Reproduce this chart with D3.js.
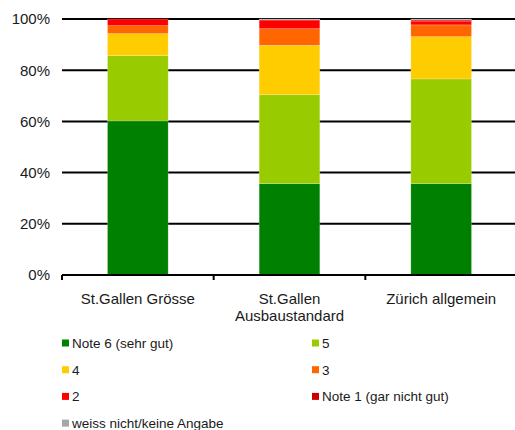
<!DOCTYPE html>
<html>
<head>
<meta charset="utf-8">
<script src="https://cdn.jsdelivr.net/npm/d3@7"></script>
<style>
	html, body { margin: 0; padding: 0; background: #fff; }
	svg { display: block; font-family: "Liberation Sans", Arial, sans-serif; }
</style>
</head>
<body>
<svg id="chart" width="515" height="430"></svg>
<script>
// categories (x axis), "\n" splits a label into lines
const categories = ["St.Gallen Grösse", "St.Gallen\nAusbaustandard", "Zürich allgemein"];

// series names, bottom to top of each bar
const seriesNames = ["Note 6 (sehr gut)", "5", "4", "3", "2", "Note 1 (gar nicht gut)", "weiss nicht/keine Angabe"];
const seriesColors = ["#008000", "#99cc00", "#ffcc00", "#ff6600", "#ff0000", "#cc0000", "#a6a6a6"];

// percentages per series, one value per category
const note6 = [60.2, 35.7, 35.7];
const note5 = [25.5, 34.7, 40.9];
const note4 = [8.6, 19.3, 16.5];
const note3 = [3.1, 6.5, 4.6];
const note2 = [2.6, 3.4, 1.5];
const note1 = [0.0, 0.0, 0.4];
const keineAngabe = [0.0, 0.4, 0.4];

const yTicks = [0, 20, 40, 60, 80, 100];

const seriesValues = [note6, note5, note4, note3, note2, note1, keineAngabe];

const rows = categories.map((c, i) => {
	let r = {category: c};
	seriesNames.forEach((s, k) => { r[s] = seriesValues[k][i]; });
	return r;
});

const margin = {left: 62, top: 19};
const plotW = 455, plotH = 256;

const svg = d3.select("#chart");
const g = svg.append("g").attr("transform", `translate(${margin.left},${margin.top})`);

const x = d3.scaleBand().domain(categories).range([0, plotW]).paddingInner(0.6).paddingOuter(0.3);
const band = plotW / categories.length;
const y = d3.scaleLinear().domain([0, 100]).range([plotH, 0]);

// gridlines
g.append("g")
	.selectAll("line")
	.data(yTicks.filter(t => t > 0))
	.enter().append("line")
	.attr("x1", 0).attr("x2", plotW)
	.attr("y1", d => y(d)).attr("y2", d => y(d))
	.attr("stroke", "#000").attr("stroke-width", 2);

// y labels
g.append("g")
	.selectAll("text")
	.data(yTicks)
	.enter().append("text")
	.attr("x", -12).attr("y", d => y(d))
	.attr("dy", "0.36em")
	.attr("text-anchor", "end")
	.attr("font-size", 15)
	.attr("fill", "#1a1a1a")
	.text(d => d + "%");

// stacked bars
const stack = d3.stack().keys(seriesNames);
const layers = stack(rows);

g.append("g")
	.selectAll("g")
	.data(layers)
	.enter().append("g")
	.attr("fill", (d, i) => seriesColors[i])
	.selectAll("rect")
	.data(d => d)
	.enter().append("rect")
	.attr("x", d => x(d.data.category))
	.attr("width", x.bandwidth())
	.attr("y", d => y(d[1]))
	.attr("height", d => y(d[0]) - y(d[1]))
	.attr("stroke", "#ffffff")
	.attr("stroke-opacity", 0.35)
	.attr("stroke-width", 0.6);

// x axis line with ticks
g.append("line")
	.attr("x1", 0).attr("x2", plotW)
	.attr("y1", plotH).attr("y2", plotH)
	.attr("stroke", "#000").attr("stroke-width", 2);

g.append("g")
	.selectAll("line")
	.data(d3.range(categories.length + 1))
	.enter().append("line")
	.attr("x1", d => d * band).attr("x2", d => d * band)
	.attr("y1", plotH).attr("y2", plotH + 5)
	.attr("stroke", "#000").attr("stroke-width", 2);

// category labels
const labels = g.append("g")
	.selectAll("text")
	.data(categories)
	.enter().append("text")
	.attr("x", d => x(d) + x.bandwidth() / 2)
	.attr("y", plotH + 29)
	.attr("text-anchor", "middle")
	.attr("font-size", 15)
	.attr("fill", "#1a1a1a");

labels.selectAll("tspan")
	.data(d => d.split("\n"))
	.enter().append("tspan")
	.attr("x", function() { return d3.select(this.parentNode).attr("x"); })
	.attr("dy", (d, i) => i === 0 ? 0 : 16.7)
	.text(d => d);

// legend, two columns
const legend = svg.append("g")
	.selectAll("g")
	.data(seriesNames)
	.enter().append("g")
	.attr("transform", (d, i) => `translate(${i % 2 === 0 ? 62 : 312},${343 + Math.floor(i / 2) * 26.7})`);

legend.append("rect")
	.attr("x", 0).attr("y", -3.5)
	.attr("width", 7).attr("height", 7)
	.attr("fill", (d, i) => seriesColors[i]);

legend.append("text")
	.attr("x", 10).attr("y", 0)
	.attr("dy", "0.36em")
	.attr("font-size", 13.5)
	.attr("fill", "#1a1a1a")
	.text(d => d);
</script>
</body>
</html>
